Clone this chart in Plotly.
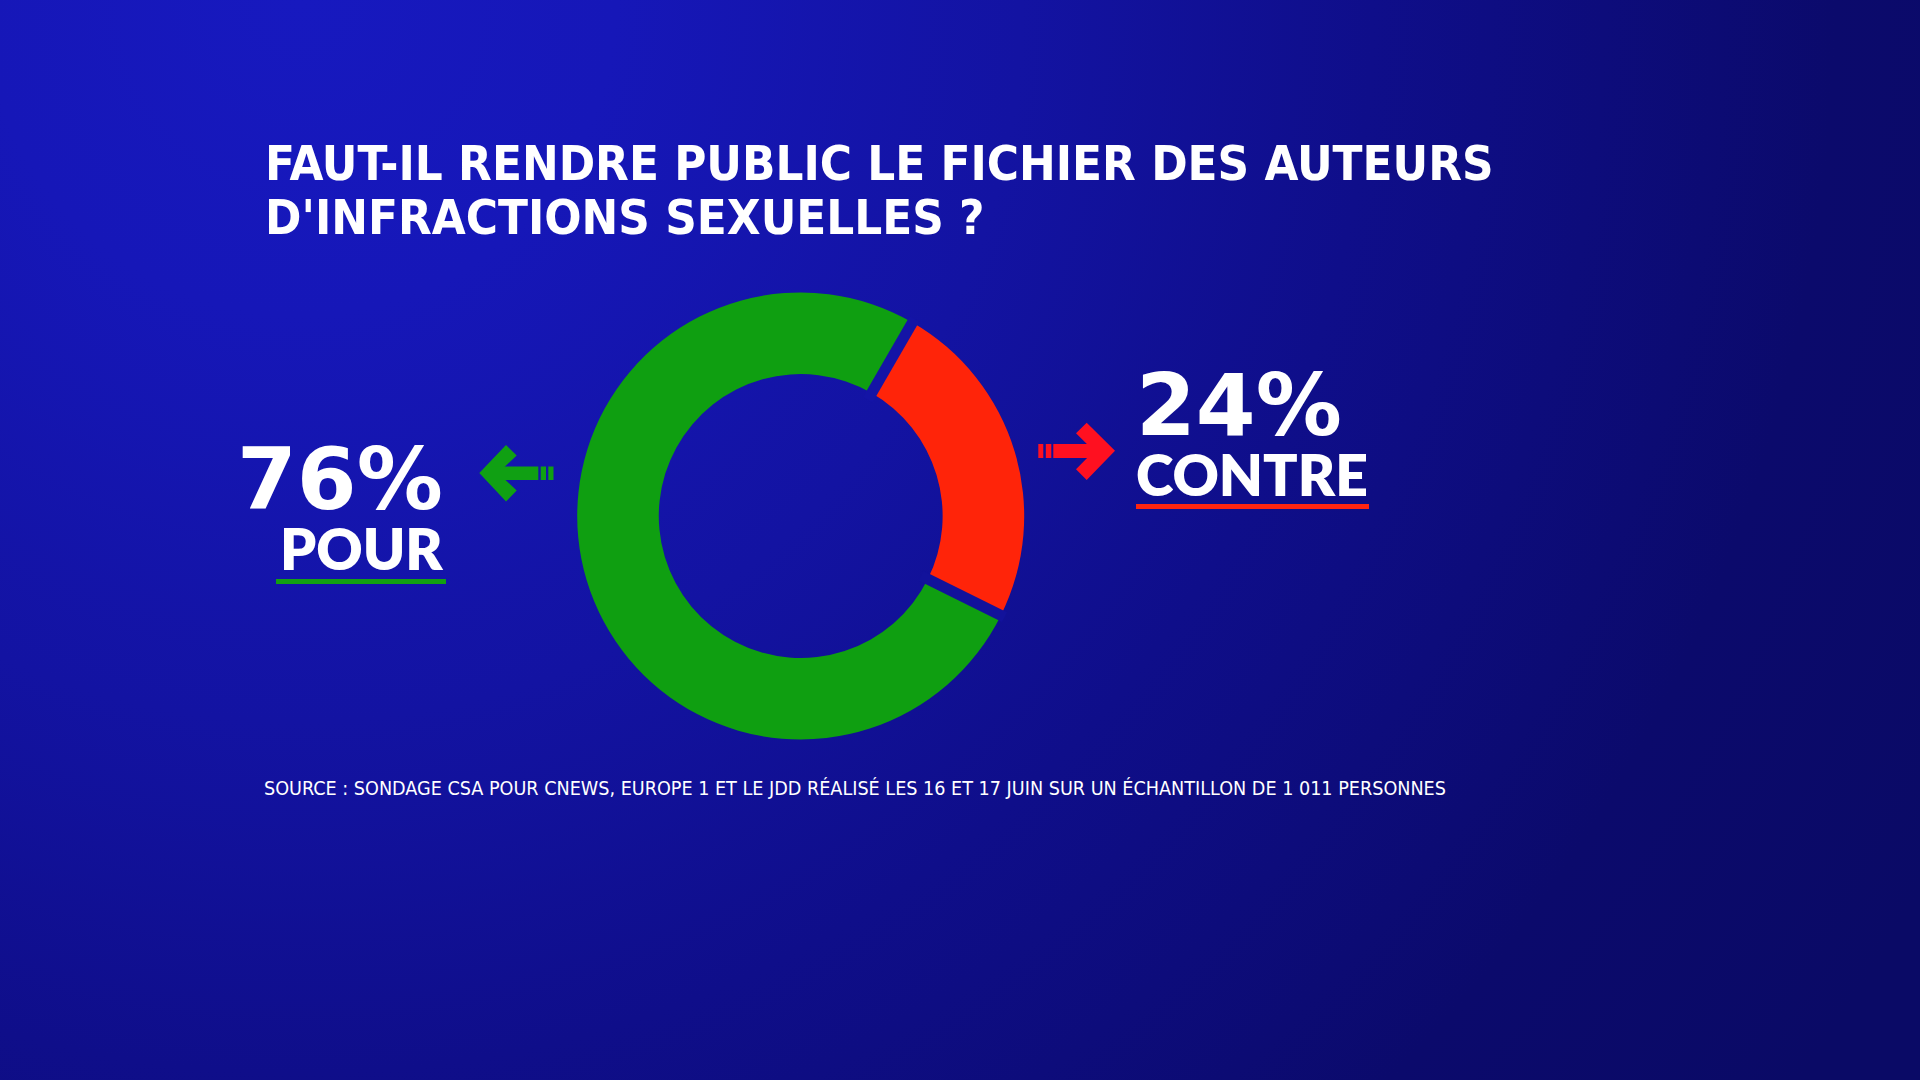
import base64
import math
import plotly.graph_objects as go

# ---------------- data ----------------
labels = ["CONTRE", "POUR"]
values = [24, 76]
slice_colors = ["#FF2409", "#0F9F11"]
title_lines = ["FAUT-IL RENDRE PUBLIC LE FICHIER DES AUTEURS",
               "D'INFRACTIONS SEXUELLES ?"]
source_text = ("SOURCE : SONDAGE CSA POUR CNEWS, EUROPE 1 ET LE JDD RÉALISÉ LES 16 ET 17 "
               "JUIN SUR UN ÉCHANTILLON DE 1 011 PERSONNES")

W, H = 1920, 1080
TITLE_FONT = "'DejaVu Sans Condensed', 'Liberation Sans Narrow', 'DejaVu Sans', sans-serif"
WORD_FONT = "Lato, 'Open Sans', sans-serif"

# ---------------- background gradient (svg data uri) ----------------
svg = (
    f'<svg xmlns="http://www.w3.org/2000/svg" width="{W}" height="{H}" viewBox="0 0 {W} {H}">'
    '<defs><radialGradient id="g" gradientUnits="userSpaceOnUse" cx="300" cy="0" r="1850">'
    '<stop offset="0" stop-color="#1719BF"/>'
    '<stop offset="0.17" stop-color="#1617B8"/>'
    '<stop offset="0.39" stop-color="#1313A2"/>'
    '<stop offset="0.58" stop-color="#0F0E8A"/>'
    '<stop offset="0.83" stop-color="#0B0A6C"/>'
    '<stop offset="1" stop-color="#0A0A66"/>'
    '</radialGradient></defs>'
    f'<rect width="{W}" height="{H}" fill="url(#g)"/></svg>'
)
bg_uri = "data:image/svg+xml;base64," + base64.b64encode(svg.encode()).decode()

# ---------------- donut ----------------
cx, cy, R = 800.7, 516.0, 223.5
ROT = 30
fig = go.Figure()
fig.add_trace(go.Pie(
    labels=labels, values=values, sort=False, direction="clockwise", rotation=ROT,
    hole=0.635, textinfo="none", hoverinfo="label+percent",
    marker=dict(colors=slice_colors, line=dict(width=0)),
    domain=dict(x=[(cx - R) / W, (cx + R) / W],
                y=[(H - cy - R) / H, (H - cy + R) / H]),
    showlegend=False,
))

shapes = []
# gaps between slices, placed at the slice boundaries derived from the values
total = sum(values)
gap_colors = ["#1414A6", "#12129B"]
acc = 0
for i, v in enumerate(values):
    ang = math.radians(ROT + 360 * acc / total)
    r0, r1 = R * 0.60, R + 4
    shapes.append(dict(type="line", xref="x", yref="y", layer="above",
                       x0=cx + r0 * math.sin(ang), y0=cy - r0 * math.cos(ang),
                       x1=cx + r1 * math.sin(ang), y1=cy - r1 * math.cos(ang),
                       line=dict(color=gap_colors[i % 2], width=11)))
    acc += v

# underlines
shapes.append(dict(type="rect", xref="x", yref="y", x0=276, x1=446, y0=579, y1=584,
                   fillcolor="#12A012", line=dict(width=0)))
shapes.append(dict(type="rect", xref="x", yref="y", x0=1136, x1=1369, y0=504, y1=509,
                   fillcolor="#FF2510", line=dict(width=0)))

def poly(pts):
    return "M " + " L ".join(f"{x},{y}" for x, y in pts) + " Z"

# green arrow (pointing left)
g_col = "#10A013"
shapes.append(dict(type="path", xref="x", yref="y", fillcolor=g_col, line=dict(width=0),
                   path=poly([(506, 445), (516.7, 455.5), (498, 473), (516.7, 490.5),
                              (506, 501.5), (479.3, 473)])))
for x0, x1 in [(490, 538.3), (540.7, 546), (548.3, 553.5)]:
    shapes.append(dict(type="rect", xref="x", yref="y", x0=x0, x1=x1, y0=466.5, y1=480,
                       fillcolor=g_col, line=dict(width=0)))

# red arrow (pointing right)
r_col = "#FF1020"
shapes.append(dict(type="path", xref="x", yref="y", fillcolor=r_col, line=dict(width=0),
                   path=poly([(1086.7, 422.7), (1115, 450.7), (1086.7, 480), (1076, 469.3),
                              (1094, 451), (1076, 433.3)])))
for x0, x1 in [(1053.3, 1100), (1038.3, 1043.3), (1045.8, 1051.3)]:
    shapes.append(dict(type="rect", xref="x", yref="y", x0=x0, x1=x1, y0=444, y1=458,
                       fillcolor=r_col, line=dict(width=0)))

# ---------------- texts ----------------
ann = []
def txt(x, y, s, size, family, weight="bold", xanchor="left", yanchor="middle",
        align="left", height=None):
    d = dict(x=x, y=y, xref="x", yref="y", text=s, showarrow=False,
             xanchor=xanchor, yanchor=yanchor, valign="middle", align=align,
             borderpad=0, borderwidth=0,
             font=dict(family=family, size=size, color="white", weight=weight))
    if height:
        d["height"] = height
    ann.append(d)

txt(264.5, 163, title_lines[0], 48.8, TITLE_FONT, height=44)
txt(264.5, 217, title_lines[1], 48.8, TITLE_FONT, height=44)

NUM_SPAN = "<span style='font-family:DejaVu Sans;font-size:86px;font-weight:bold'>{}</span>"
WORD_SPAN = "<span style='font-size:57px'>{}</span>"

pour_val = values[labels.index("POUR")]
contre_val = values[labels.index("CONTRE")]
txt(443, 429, NUM_SPAN.format(f"{pour_val}%") + "<br>" + WORD_SPAN.format("POUR"),
    47, WORD_FONT, weight=800, xanchor="right", yanchor="top", align="right")
txt(1136, 355, NUM_SPAN.format(f"{contre_val}%") + "<br>" + WORD_SPAN.format("CONTRE"),
    47, WORD_FONT, weight=800, xanchor="left", yanchor="top", align="left")

txt(264, 788, source_text, 19.6, TITLE_FONT, weight="normal")

fig.update_layout(
    width=W, height=H, margin=dict(l=0, r=0, t=0, b=0),
    paper_bgcolor="#1313A0", plot_bgcolor="rgba(0,0,0,0)",
    xaxis=dict(range=[0, W], visible=False, fixedrange=True),
    yaxis=dict(range=[H, 0], visible=False, fixedrange=True),
    images=[dict(source=bg_uri, xref="paper", yref="paper", x=0, y=1, sizex=1, sizey=1,
                 xanchor="left", yanchor="top", sizing="stretch", layer="below")],
    shapes=shapes, annotations=ann, showlegend=False,
)

fig.write_html("out.html")
